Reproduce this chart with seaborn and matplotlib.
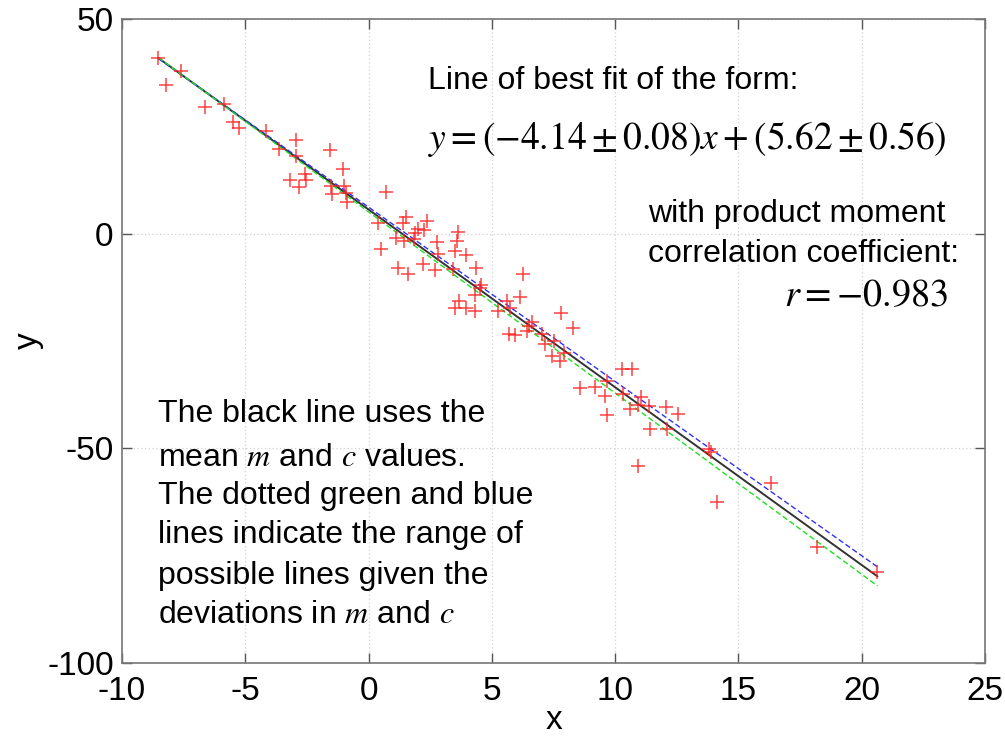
import matplotlib
matplotlib.use("Agg")
import matplotlib.pyplot as plt
import seaborn as sns
import numpy as np
import pandas as pd

# ---- data ----
x_vals = [-8.53, -7.61, -8.22, -6.63, -5.86, -5.48, -5.27, -4.15, -2.96, -3.64,
          -2.96, -1.58, -1.03, -3.17, -2.83, -2.56, -2.52, -1.51, -1.47, -0.99,
          -0.88, -0.91, 0.69, 0.37, 0.50, 1.39, 1.52, 1.11, 1.45,
          2.36, 1.90, 1.99, 2.24, 1.83, 1.18, 1.59, 2.20, 2.70, 2.78,
          2.81, 3.63, 3.60, 3.49, 3.97, 3.42, 4.37, 4.55, 4.51, 4.31,
          3.66, 3.49, 3.97, 4.31, 5.23, 5.60, 5.74, 6.28, 6.14, 6.62,
          6.52, 6.41, 5.69, 5.94, 7.02, 7.16, 7.54, 7.81, 8.28, 7.91,
          7.43, 7.77,
          10.26, 10.69, 9.67, 8.56, 9.20, 9.58, 10.31, 11.04, 10.94, 10.60,
          11.37, 12.05, 12.53, 9.65, 11.41, 12.12, 13.82, 13.90, 10.94, 16.33,
          14.12, 18.17, 20.64]
y_vals = [40.9, 37.9, 34.7, 29.6, 30.1, 26.1, 24.6, 23.8, 21.9, 19.7,
          18.1, 19.4, 15.0, 12.6, 10.9, 14.0, 12.4, 11.0, 9.3, 11.2,
          7.3, 9.5, 9.6, 2.6, -3.6, 2.5, 3.9, -1.0, -1.8,
          2.9, 0.2, 1.1, 0.8, -1.2, -8.0, -9.3, -7.1, -8.4, -2.0,
          -4.7, 0.3, -1.8, -4.0, -4.9, -8.2, -8.0, -11.9, -12.6, -14.2,
          -15.7, -17.3, -17.3, -18.1, -17.9, -15.7, -17.3, -9.3, -14.7, -20.6,
          -21.6, -22.7, -23.3, -23.7, -23.3, -25.8, -25.0, -18.4, -21.9, -27.7,
          -28.5, -29.7,
          -31.5, -31.6, -34.3, -36.0, -35.7, -37.7, -37.4, -38.0, -39.8, -40.8,
          -40.2, -40.3, -41.9, -42.3, -45.4, -45.4, -50.2, -50.8, -54.0, -58.1,
          -62.6, -72.9, -78.8]

m_mean, m_err = -4.14, 0.08
c_mean, c_err = 5.62, 0.56
r_value = -0.983

x_ticks = [-10, -5, 0, 5, 10, 15, 20, 25]
y_ticks = [-100, -50, 0, 50]

# ---- style ----
sns.set_style("white")
plt.rcParams['font.family'] = ['Liberation Sans', 'DejaVu Sans']
plt.rcParams['mathtext.fontset'] = 'stix'
plt.rcParams['text.color'] = 'black'
plt.rcParams['axes.labelcolor'] = 'black'
plt.rcParams['xtick.color'] = 'black'
plt.rcParams['ytick.color'] = 'black'

fig = plt.figure(figsize=(10.05, 7.40), dpi=100)
ax = fig.add_axes([122 / 1005, 1 - 663 / 740, (985 - 122) / 1005, (663 - 19) / 740])

df = pd.DataFrame({'x': x_vals, 'y': y_vals})
sns.scatterplot(data=df, x='x', y='y', marker='+', color='#ff2020', s=115,
                linewidth=1.1, alpha=0.85, ax=ax, zorder=3)

xs = np.array([min(x_vals), max(x_vals)])
lines = pd.DataFrame({
    'x': np.concatenate([xs, xs, xs]),
    'y': np.concatenate([m_mean * xs + c_mean,
                         (m_mean + m_err) * xs + (c_mean + c_err),
                         (m_mean - m_err) * xs + (c_mean - c_err)]),
    'which': ['mean'] * 2 + ['upper'] * 2 + ['lower'] * 2,
})
sns.lineplot(data=lines[lines.which == 'mean'], x='x', y='y', color='#333333',
             linewidth=1.4, ax=ax, zorder=2)
sns.lineplot(data=lines[lines.which == 'upper'], x='x', y='y', color='#3030ff',
             linewidth=1.0, linestyle=(0, (4, 2)), ax=ax, zorder=2)
sns.lineplot(data=lines[lines.which == 'lower'], x='x', y='y', color='#20e020',
             linewidth=1.0, linestyle=(0, (4, 2)), ax=ax, zorder=2)

ax.set_xlim(-10, 25)
ax.set_ylim(-100, 50)
ax.set_xticks(x_ticks)
ax.set_yticks(y_ticks)
ax.set_xticklabels([str(t) for t in x_ticks], fontsize=24)
ax.set_yticklabels([str(t) for t in y_ticks], fontsize=24)
ax.grid(True, color='#d0d0d0', linestyle=(0, (1, 2)), linewidth=0.9)
ax.tick_params(axis='both', direction='in', length=7, width=1,
               color='#555555', top=True, right=True, bottom=True, left=True)
ax.tick_params(axis='x', pad=9)
ax.tick_params(axis='y', pad=6)
for s in ax.spines.values():
    s.set_color('#777777')
    s.set_linewidth(1.2)
ax.set_xlabel('x', fontsize=24, labelpad=-1)
ax.set_ylabel('y', fontsize=24, labelpad=2)

fs = 23
ax.text(0.355, 0.904, 'Line of best fit of the form:', transform=ax.transAxes,
        fontsize=fs, va='center', ha='left')
ax.text(0.355, 0.813,
        r'$y=\left(-4.14\pm0.08\right)x+\left(5.62\pm0.56\right)$',
        transform=ax.transAxes, fontsize=27, va='center', ha='left')
ax.text(0.610, 0.697, 'with product moment', transform=ax.transAxes,
        fontsize=fs, va='center', ha='left')
ax.text(0.610, 0.635, 'correlation coefficient:', transform=ax.transAxes,
        fontsize=fs, va='center', ha='left')
ax.text(0.957, 0.569, r'$r=-0.983$', transform=ax.transAxes,
        fontsize=27.5, va='center', ha='right')

block = ['The black line uses the',
         r'mean $m$ and $c$ values.',
         'The dotted green and blue',
         'lines indicate the range of',
         'possible lines given the',
         r'deviations in $m$ and $c$']
ys = [0.386, 0.319, 0.260, 0.198, 0.135, 0.075]
for t, yy in zip(block, ys):
    ax.text(0.0418, yy, t, transform=ax.transAxes, fontsize=fs,
            va='center', ha='left')

fig.savefig('out.png', dpi=100)
